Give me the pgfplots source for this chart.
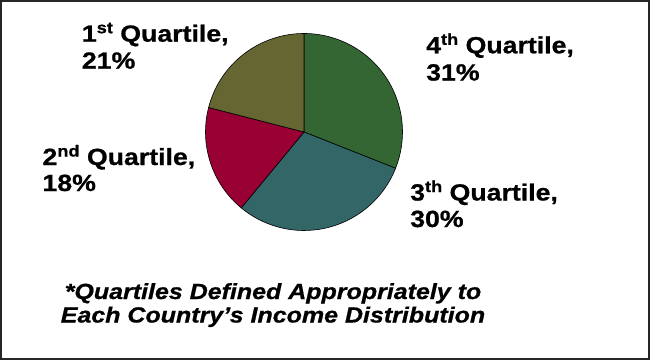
\documentclass[border=0pt]{standalone}
\usepackage{fontspec}
\setmainfont{Liberation Sans}[FakeStretch=1.14, BoldFeatures={FakeBold=0.8}, BoldItalicFeatures={FakeBold=0.8}]
\usepackage{pgfplots}
\pgfplotsset{compat=1.18}
\definecolor{qfour}{HTML}{336633}
\definecolor{qthree}{HTML}{336666}
\definecolor{qtwo}{HTML}{990033}
\definecolor{qone}{HTML}{666633}
\newcommand{\sups}[1]{\raisebox{8.5bp}{\fontsize{16}{16}\selectfont #1}}
\newcommand{\lab}{\bfseries\fontsize{23.5}{27}\selectfont}
\begin{document}
\begin{tikzpicture}[x=1bp,y=1bp]
\useasboundingbox (0,0) rectangle (650,360);
\draw[line width=1.6bp, color=black!85] (0.8,0.8) rectangle (649.2,359.2);
\begin{axis}[at={(304bp,228bp)}, anchor=center, width=197bp, height=197bp,
  scale only axis, xmin=-1, xmax=1, ymin=-1, ymax=1, hide axis, clip=false]
% shares in percent: 4th 31, 3th 30, 2nd 18, 1st 21 (clockwise from 12 o'clock)
\filldraw[fill=qfour, draw=black, line width=0.6bp] (axis cs:0,0) -- (axis cs:{cos(90)},{sin(90)})
  arc[start angle=90, end angle={90-3.6*31}, radius=98.5bp] -- cycle;
\filldraw[fill=qthree, draw=black, line width=0.6bp] (axis cs:0,0) -- (axis cs:{cos(90-3.6*31)},{sin(90-3.6*31)})
  arc[start angle={90-3.6*31}, end angle={90-3.6*61}, radius=98.5bp] -- cycle;
\filldraw[fill=qtwo, draw=black, line width=0.6bp] (axis cs:0,0) -- (axis cs:{cos(90-3.6*61)},{sin(90-3.6*61)})
  arc[start angle={90-3.6*61}, end angle={90-3.6*79}, radius=98.5bp] -- cycle;
\filldraw[fill=qone, draw=black, line width=0.6bp] (axis cs:0,0) -- (axis cs:{cos(90-3.6*79)},{sin(90-3.6*79)})
  arc[start angle={90-3.6*79}, end angle={90-3.6*100}, radius=98.5bp] -- cycle;
\end{axis}
% labels
\node[anchor=base west, inner sep=0] at (426,306.7) {\lab 4\sups{th} Quartile,};
\node[anchor=base west, inner sep=0] at (426,279.5) {\lab 31\%};
\node[anchor=base west, inner sep=0] at (81.7,318.3) {\lab 1\sups{st} Quartile,};
\node[anchor=base west, inner sep=0] at (81.7,291.3) {\lab 21\%};
\node[anchor=base west, inner sep=0] at (42.3,195) {\lab 2\sups{nd} Quartile,};
\node[anchor=base west, inner sep=0] at (42.3,169) {\lab 18\%};
\node[anchor=base west, inner sep=0] at (410,159.5) {\lab 3\sups{th} Quartile,};
\node[anchor=base west, inner sep=0] at (410,133) {\lab 30\%};
% footnote
\node[anchor=base, inner sep=0] at (273,61) {\bfseries\itshape\fontsize{22}{23}\selectfont *Quartiles Defined Appropriately to};
\node[anchor=base, inner sep=0] at (273,37.5) {\bfseries\itshape\fontsize{22}{23}\selectfont Each Country’s Income Distribution};
\end{tikzpicture}
\end{document}
